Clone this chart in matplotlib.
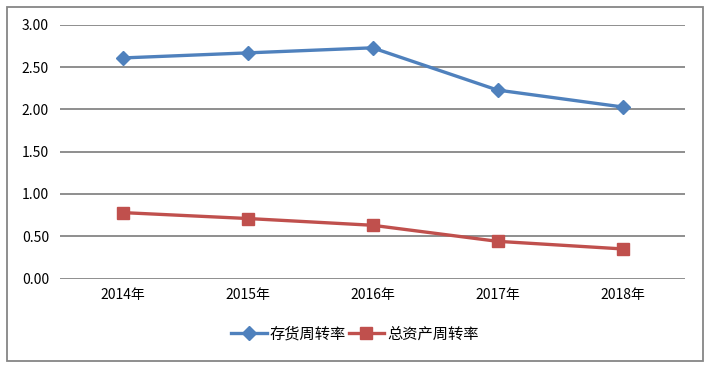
import matplotlib

matplotlib.use("Agg")
import matplotlib.pyplot as plt
from matplotlib.patches import Rectangle

plt.rcParams["font.family"] = ["Noto Sans CJK SC", "DejaVu Sans"]

years = ["2014年", "2015年", "2016年", "2017年", "2018年"]
inventory_turnover = [2.61, 2.67, 2.73, 2.23, 2.03]
asset_turnover = [0.78, 0.71, 0.63, 0.44, 0.35]
y_ticks = [0.0, 0.5, 1.0, 1.5, 2.0, 2.5, 3.0]

BLUE = "#4f81bd"
RED = "#c0504d"
GRID = "#868686"

fig = plt.figure(figsize=(7.17, 3.68), dpi=100)
ax = fig.add_axes([60 / 717, 1 - 278.5 / 368, 625 / 717, 253.5 / 368])

xs = list(range(len(years)))
ax.plot(xs, inventory_turnover, color=BLUE, linewidth=2.4, marker="D",
        markersize=7.5, label="存货周转率", zorder=3)
ax.plot(xs, asset_turnover, color=RED, linewidth=2.4, marker="s",
        markersize=8.5, label="总资产周转率", zorder=3)

ax.set_xlim(-0.5, len(years) - 0.5)
ax.set_ylim(0, 3.0)
ax.set_yticks(y_ticks)
ax.set_yticklabels([f"{v:.2f}" for v in y_ticks], fontsize=10)
ax.set_xticks(xs)
ax.set_xticklabels(years, fontsize=10)
ax.tick_params(length=0, pad=8)
ax.tick_params(axis="x", pad=7)
for spine in ax.spines.values():
    spine.set_visible(False)
ax.grid(axis="y", color=GRID, linewidth=1.3)
ax.set_axisbelow(True)

ax.legend(loc="center", bbox_to_anchor=(295 / 625, -0.22), ncol=2, frameon=False,
          fontsize=11, handlelength=2.3, handletextpad=0.2, columnspacing=0.2)

fig.patches.append(Rectangle((7 / 717, 7 / 368), 696 / 717, 354 / 368,
                             transform=fig.transFigure, fill=False,
                             edgecolor=GRID, linewidth=1.3))

fig.savefig("out.png", dpi=100)
